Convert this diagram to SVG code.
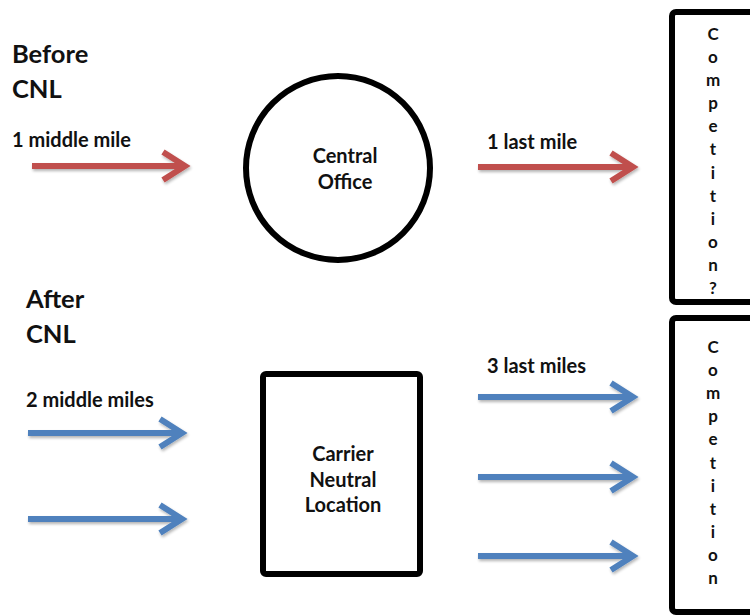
<svg xmlns="http://www.w3.org/2000/svg" width="750" height="616" viewBox="0 0 750 616">
<defs>
<style>
.t{font-family:Lato,"Liberation Sans",sans-serif;font-weight:bold;fill:#111}
.h{font-size:25.5px}
.l{font-size:20px}
.n{font-size:20px;text-anchor:middle}
.v{font-size:17px;text-anchor:middle}
.red{fill:none;stroke:#c0504d;stroke-width:6}
.blue{fill:none;stroke:#4f81bd;stroke-width:6}
.shape{fill:#fff;stroke:#000;stroke-width:6}
</style>
<filter id="sh" x="-10%" y="-50%" width="120%" height="200%">
<feGaussianBlur in="SourceAlpha" stdDeviation="1.5"/>
<feOffset dx="1" dy="2" result="b"/>
<feComponentTransfer><feFuncA type="linear" slope="0.3"/></feComponentTransfer>
<feMerge><feMergeNode/><feMergeNode in="SourceGraphic"/></feMerge>
</filter>
</defs>
<rect width="750" height="616" fill="#fff"/>
<g id="labels">
<text class="t h" x="12" y="63">Before</text>
<text class="t h" x="12" y="98">CNL</text>
<text class="t h" x="26" y="308">After</text>
<text class="t h" x="26" y="343">CNL</text>
<text class="t l" x="12" y="147">1 middle mile</text>
<text class="t l" x="487" y="149">1 last mile</text>
<text class="t l" x="26" y="407">2 middle miles</text>
<text class="t l" x="487" y="373">3 last miles</text>
</g>
<g id="connectors" filter="url(#sh)">
<path class="red" d="M32 166H184M163 152L185 166L163 180"/>
<path class="red" d="M478 167H632M611 153L633 167L611 181"/>
<path class="blue" d="M28 433H180M160 419L182 433L160 447"/>
<path class="blue" d="M28 519H180M160 505L182 519L160 533"/>
<path class="blue" d="M478 397H632M611 383L633 397L611 411"/>
<path class="blue" d="M478 477H632M611 463L633 477L611 491"/>
<path class="blue" d="M478 556H632M611 542L633 556L611 570"/>
</g>
<g id="central-office">
<circle class="shape" cx="338" cy="168" r="92"/>
<text class="t n" x="345" y="163">Central</text>
<text class="t n" x="345" y="189">Office</text>
</g>
<g id="carrier-neutral-location">
<rect class="shape" x="263" y="374" width="157" height="200" rx="3"/>
<text class="t n" x="343" y="461">Carrier</text>
<text class="t n" x="343" y="487">Neutral</text>
<text class="t n" x="343" y="512">Location</text>
</g>
<g id="competition-before">
<rect class="shape" x="672" y="12" width="100" height="290" rx="4"/>
<text class="t v" x="713" y="40">C</text>
<text class="t v" x="713" y="63">o</text>
<text class="t v" x="713" y="86">m</text>
<text class="t v" x="713" y="109">p</text>
<text class="t v" x="713" y="132">e</text>
<text class="t v" x="713" y="155">t</text>
<text class="t v" x="713" y="179">i</text>
<text class="t v" x="713" y="202">t</text>
<text class="t v" x="713" y="225">i</text>
<text class="t v" x="713" y="248">o</text>
<text class="t v" x="713" y="271">n</text>
<text class="t v" x="713" y="294">?</text>
</g>
<g id="competition-after">
<rect class="shape" x="672" y="318" width="100" height="294" rx="4"/>
<text class="t v" x="713" y="353">C</text>
<text class="t v" x="713" y="376">o</text>
<text class="t v" x="713" y="399">m</text>
<text class="t v" x="713" y="422">p</text>
<text class="t v" x="713" y="445">e</text>
<text class="t v" x="713" y="469">t</text>
<text class="t v" x="713" y="492">i</text>
<text class="t v" x="713" y="515">t</text>
<text class="t v" x="713" y="538">i</text>
<text class="t v" x="713" y="561">o</text>
<text class="t v" x="713" y="584">n</text>
</g>
</svg>
